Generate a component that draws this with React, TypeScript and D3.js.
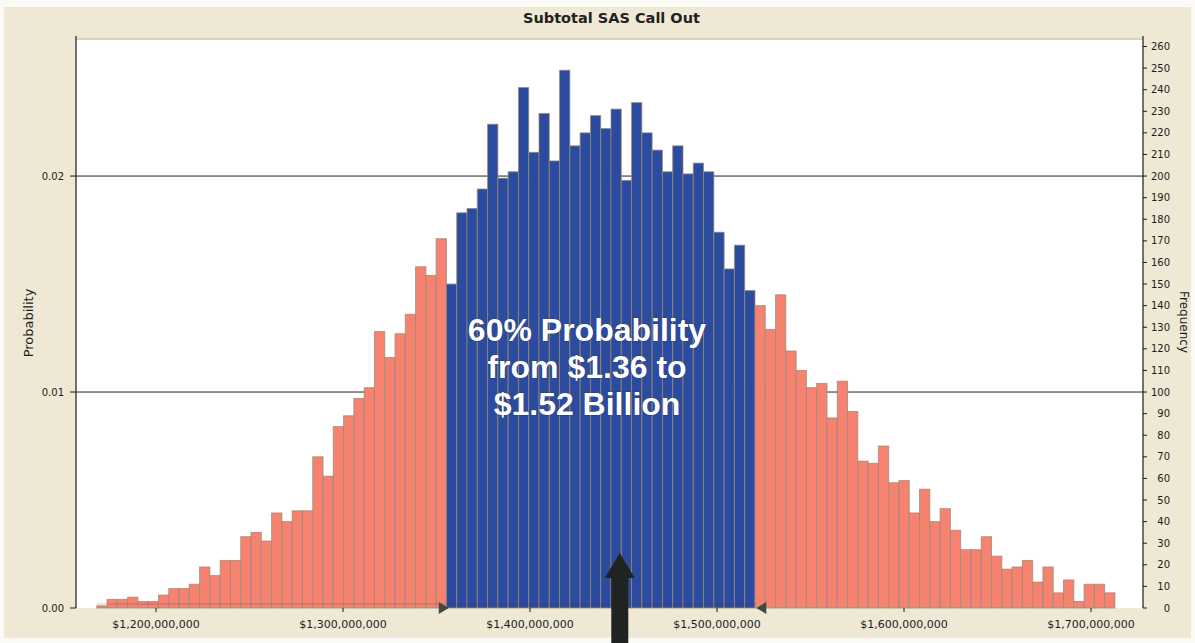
import React from 'react';
import * as d3 from 'd3';

// Forecast histogram: frequency of outcomes (in $ millions) over 10,000 trials
const TITLE = 'Subtotal SAS Call Out';
const TRIALS = 10000;
const BIN_START = 1168.3; // $M, lower edge of the first bin
const BIN_WIDTH = 5.5; // $M per bin

// Lower tail (below the certainty range)
const lowerTailCounts = [
  1, 4, 4, 5, 3, 3, 6, 9, 9, 11, 19, 15, 22, 22, 33, 35, 31, 44, 40, 45, 45, 70, 61, 84, 89, 97, 102,
  128, 116, 127, 136, 158, 154, 171,
];
// Certainty range
const certaintyCounts = [
  150, 183, 185, 194, 224, 199, 202, 241, 211, 229, 207, 249, 214, 220, 228, 222, 231, 198, 234, 220,
  212, 202, 214, 201, 206, 202, 174, 157, 168, 147,
];
// Upper tail
const upperTailCounts = [
  140, 129, 145, 119, 110, 102, 104, 88, 105, 91, 68, 67, 75, 58, 59, 44, 55, 40, 46, 36, 27, 27, 33,
  24, 18, 19, 22, 12, 19, 7, 13, 3, 11, 11, 7,
];
const frequencies = [...lowerTailCounts, ...certaintyCounts, ...upperTailCounts];

const RANGE_LOW = 1356; // $M
const RANGE_HIGH = 1521; // $M
const MEAN_VALUE = 1448; // $M

const xTickValues = [1200, 1300, 1400, 1500, 1600, 1700];
const probabilityTicks = [0, 0.01, 0.02];
const frequencyTicks = [
  0, 10, 20, 30, 40, 50, 60, 70, 80, 90, 100, 110, 120, 130, 140, 150, 160, 170, 180, 190, 200, 210,
  220, 230, 240, 250, 260,
];
const annotationLines = ['60% Probability', 'from $1.36 to', '$1.52 Billion'];

const W = 1195;
const H = 643;
const PLOT = { left: 76, right: 1143, top: 40, bottom: 608 };
const X_DOMAIN = [1157.2, 1727.8];
const FREQ_MAX = 263;

const FONT = "Arial, 'Liberation Sans', sans-serif";
const TICK_FONT = "'DejaVu Sans', Verdana, sans-serif";
const BEIGE = '#eee8d5';
const RED = '#f7826f';
const BLUE = '#2a4b9f';
const INK = '#1c1c1c';

export default function App() {
  const x = d3.scaleLinear().domain(X_DOMAIN).range([PLOT.left, PLOT.right]);
  const yFreq = d3.scaleLinear().domain([0, FREQ_MAX]).range([PLOT.bottom, PLOT.top]);
  const yProb = d3.scaleLinear().domain([0, FREQ_MAX / TRIALS]).range([PLOT.bottom, PLOT.top]);

  const bins = frequencies.map((count, i) => {
    const x0 = BIN_START + i * BIN_WIDTH;
    const x1 = x0 + BIN_WIDTH;
    const mid = (x0 + x1) / 2;
    return { x0, x1, count, inRange: mid >= RANGE_LOW && mid <= RANGE_HIGH };
  });

  const moneyFmt = (v: number) => '$' + d3.format(',')(Math.round(v * 1e6));
  const probFmt = d3.format('.2f');

  const mx = x(MEAN_VALUE);
  const textCx = (x(RANGE_LOW) + x(RANGE_HIGH)) / 2 - 15;

  const lowTri = x(RANGE_LOW);
  const highTri = x(RANGE_HIGH);
  const triY = PLOT.bottom;

  return (
    <svg
      width={W}
      height={H}
      viewBox={`0 0 ${W} ${H}`}
      style={{ position: 'absolute', left: 0, top: 0, background: '#fbfaf6' }}
      fontFamily={FONT}
    >
      <rect x={4} y={7} width={W - 8} height={H - 12} fill={BEIGE} />
      <rect x={PLOT.left} y={PLOT.top} width={PLOT.right - PLOT.left} height={PLOT.bottom - PLOT.top} fill="#ffffff" />
      <line x1={PLOT.left} x2={PLOT.right} y1={PLOT.top - 1} y2={PLOT.top - 1} stroke="#d9d2bd" strokeWidth={2} />

      {/* gridlines */}
      {probabilityTicks
        .filter((t) => t > 0)
        .map((t) => (
          <line key={t} x1={PLOT.left} x2={PLOT.right} y1={yProb(t)} y2={yProb(t)} stroke="#222" strokeWidth={1} />
        ))}

      {/* histogram bars */}
      {bins.map((b, i) => (
        <rect
          key={i}
          x={x(b.x0)}
          y={yFreq(b.count)}
          width={x(b.x1) - x(b.x0)}
          height={yFreq(0) - yFreq(b.count)}
          fill={b.inRange ? BLUE : RED}
          stroke={b.inRange ? '#9c8a66' : '#8f8c7e'}
          strokeOpacity={0.75}
          strokeWidth={1}
        />
      ))}

      {/* certainty range markers */}
      <line x1={x(BIN_START)} x2={highTri} y1={triY - 4} y2={triY - 4} stroke="#333" strokeOpacity={0.25} />
      <path d={`M${lowTri - 9},${triY - 6} L${lowTri + 1},${triY} L${lowTri - 9},${triY + 6} Z`} fill="#3c4a42" />
      <path d={`M${highTri + 10},${triY - 6} L${highTri},${triY} L${highTri + 10},${triY + 6} Z`} fill="#3c4a42" />

      {/* left axis (probability) */}
      <line x1={PLOT.left} x2={PLOT.left} y1={PLOT.top - 4} y2={PLOT.bottom} stroke={INK} strokeWidth={1.2} />
      {probabilityTicks.map((t) => (
        <g key={t}>
          <line x1={PLOT.left - 6} x2={PLOT.left} y1={yProb(t)} y2={yProb(t)} stroke={INK} />
          <text
            x={PLOT.left - 12}
            y={yProb(t)}
            dy="0.35em"
            textAnchor="end"
            fontSize={10}
            fontFamily={TICK_FONT}
            fill={INK}
          >
            {probFmt(t)}
          </text>
        </g>
      ))}
      <text
        transform={`translate(33, 323) rotate(-90)`}
        textAnchor="middle"
        fontSize={13}
        fontFamily={TICK_FONT}
        fill={INK}
      >
        Probability
      </text>

      {/* right axis (frequency) */}
      <line x1={PLOT.right} x2={PLOT.right} y1={PLOT.top - 4} y2={PLOT.bottom} stroke={INK} strokeWidth={1.2} />
      {frequencyTicks.map((t) => (
        <g key={t}>
          <line x1={PLOT.right} x2={PLOT.right + 4} y1={yFreq(t)} y2={yFreq(t)} stroke={INK} />
          <text
            x={PLOT.right + 27}
            y={yFreq(t)}
            dy="0.35em"
            textAnchor="end"
            fontSize={10}
            fontFamily={TICK_FONT}
            fill={INK}
          >
            {t}
          </text>
        </g>
      ))}
      <text
        transform={`translate(1180, 322) rotate(90)`}
        textAnchor="middle"
        fontSize={12}
        fontFamily={TICK_FONT}
        fill={INK}
      >
        Frequency
      </text>

      {/* x axis */}
      {xTickValues.map((v) => (
        <g key={v}>
          <line x1={x(v)} x2={x(v)} y1={PLOT.bottom} y2={PLOT.bottom + 4} stroke={INK} />
          <text x={x(v)} y={628} textAnchor="middle" fontSize={11} fontFamily={TICK_FONT} fill={INK}>
            {moneyFmt(v)}
          </text>
        </g>
      ))}

      {/* title */}
      <text
        x={(PLOT.left + PLOT.right) / 2 + 2}
        y={23}
        textAnchor="middle"
        fontSize={14.5}
        fontWeight="bold"
        fontFamily={TICK_FONT}
        fill="#222"
      >
        {TITLE}
      </text>

      {/* annotation */}
      <g fontSize={32} fontWeight="bold" textAnchor="middle" fill="#ffffff">
        {annotationLines.map((line, i) => (
          <text key={i} x={textCx} y={341 + i * 37} stroke="#1b2a55" strokeWidth={0.6} paintOrder="stroke">
            {line}
          </text>
        ))}
      </g>

      {/* mean arrow */}
      <rect x={mx - 8.5} y={576} width={17} height={H - 576} fill="#1f2422" />
      <path d={`M${mx - 15},${578} L${mx},${553} L${mx + 15},${578} Z`} fill="#1f2422" />
    </svg>
  );
}
